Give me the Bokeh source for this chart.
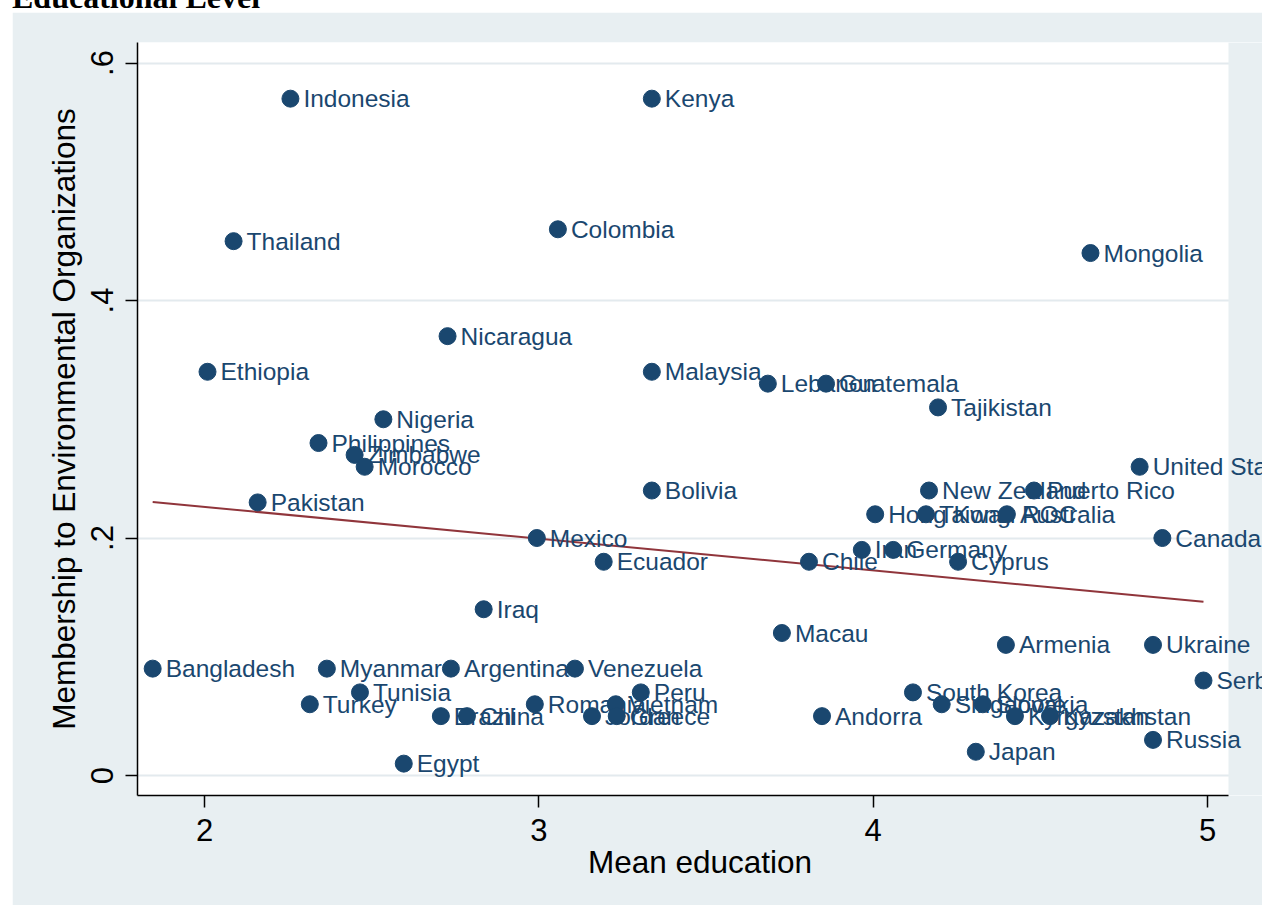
import numpy as np
from bokeh.plotting import figure
from bokeh.layouts import column, row
from bokeh.models import (ColumnDataSource, BoxAnnotation, Div,
                          Spacer, Range1d, FixedTicker)
from bokeh.core.properties import value
from bokeh.embed import file_html
from bokeh.resources import INLINE

# ---- data ----
countries = ["Indonesia", "Kenya", "Thailand", "Colombia", "Mongolia",
             "Nicaragua", "Ethiopia", "Malaysia", "Lebanon", "Guatemala",
             "Tajikistan", "Nigeria", "Philippines", "Zimbabwe", "Morocco",
             "United States", "Bolivia", "New Zealand", "Puerto Rico", "Pakistan",
             "Hong Kong", "Taiwan ROC", "Australia", "Mexico", "Canada",
             "Iran", "Germany", "Chile", "Ecuador", "Cyprus",
             "Iraq", "Macau", "Armenia", "Ukraine", "Bangladesh",
             "Myanmar", "Argentina", "Venezuela", "Serbia", "Tunisia",
             "Peru", "South Korea", "Turkey", "Romania", "Vietnam",
             "Singapore", "Slovakia", "Brazil", "China", "Jordan",
             "Greece", "Andorra", "Kyrgyzstan", "Kazakhstan", "Russia",
             "Japan", "Egypt"]
mean_education = [2.257, 3.338, 2.087, 3.057, 4.650,
                  2.727, 2.009, 3.338, 3.685, 3.859,
                  4.194, 2.535, 2.341, 2.449, 2.479,
                  4.797, 3.338, 4.167, 4.481, 2.159,
                  4.006, 4.158, 4.400, 2.994, 4.865,
                  3.966, 4.060, 3.808, 3.194, 4.254,
                  2.835, 3.727, 4.397, 4.837, 1.845,
                  2.366, 2.737, 3.108, 4.988, 2.465,
                  3.305, 4.119, 2.315, 2.988, 3.230,
                  4.205, 4.328, 2.707, 2.785, 3.159,
                  3.233, 3.847, 4.424, 4.529, 4.837,
                  4.307, 2.596]
membership = [0.57, 0.57, 0.45, 0.46, 0.44,
              0.37, 0.34, 0.34, 0.33, 0.33,
              0.31, 0.30, 0.28, 0.27, 0.26,
              0.26, 0.24, 0.24, 0.24, 0.23,
              0.22, 0.22, 0.22, 0.20, 0.20,
              0.19, 0.19, 0.18, 0.18, 0.18,
              0.14, 0.12, 0.11, 0.11, 0.09,
              0.09, 0.09, 0.09, 0.08, 0.07,
              0.07, 0.07, 0.06, 0.06, 0.06,
              0.06, 0.06, 0.05, 0.05, 0.05,
              0.05, 0.05, 0.05, 0.05, 0.03,
              0.02, 0.01]

xticks = [2, 3, 4, 5]
yticks = [0, 0.2, 0.4, 0.6]
ytick_labels = ["0", ".2", ".4", ".6"]

title_text = "Educational Level"
x_title = "Mean education"
y_title = "Membership to Environmental Organizations"

# ---- styling ----
NAVY = "#1a476f"
MAROON = "#90353b"
PANEL = "#e8eff2"
GRID = "#e3eaee"
FONT = "Liberation Sans"

X_LO, X_HI = 1.7996, 5.0628      # white plot region
X_CANVAS_HI = 5.1645             # right edge of the outer panel
Y_LO, Y_HI = -0.01684, 0.6173

W, H = 1250, 893
p = figure(width=W, height=H, output_backend="svg", toolbar_location=None,
           x_range=Range1d(X_LO, X_CANVAS_HI), y_range=Range1d(Y_LO, Y_HI),
           min_border_left=125, min_border_right=0,
           min_border_top=30, min_border_bottom=110, margin=(0, 0, 0, 0))
p.border_fill_color = PANEL
p.background_fill_color = "white"
p.outline_line_color = None

# axes
p.xaxis.ticker = FixedTicker(ticks=xticks)
p.yaxis.ticker = FixedTicker(ticks=yticks)
p.yaxis.major_label_overrides = dict(zip(yticks, ytick_labels))
p.yaxis.major_label_orientation = "vertical"
p.xaxis.bounds = (X_LO, X_HI)
for ax in (p.xaxis, p.yaxis):
    ax.axis_line_color = "black"
    ax.axis_line_width = 1.5
    ax.major_tick_line_color = "black"
    ax.major_tick_line_width = 1.5
    ax.major_tick_out = 12
    ax.major_tick_in = 0
    ax.minor_tick_line_color = None
    ax.major_label_text_font = FONT
    ax.major_label_text_font_size = "31px"
    ax.major_label_text_color = "black"
    ax.axis_label_text_font = FONT
    ax.axis_label_text_font_size = "31.5px"
    ax.axis_label_text_font_style = "normal"
    ax.axis_label_text_color = "black"
p.xaxis.axis_label = x_title
p.yaxis.axis_label = y_title
p.xaxis.major_label_standoff = 11
p.xaxis.axis_label_standoff = 0
p.yaxis.major_label_standoff = 12
p.yaxis.axis_label_standoff = 7

p.xgrid.visible = False
p.ygrid.grid_line_color = GRID
p.ygrid.grid_line_width = 2

# outer-panel strip at the right of the white plot region (covers grid lines)
strip = BoxAnnotation(left=X_HI, fill_color=PANEL, fill_alpha=1.0,
                      line_color=None, level="underlay")
p.add_layout(strip)

# fitted line (least squares on the data)
xs = np.array(mean_education)
ys = np.array(membership)
b1, b0 = np.polyfit(xs, ys, 1)
fx = np.array([xs.min(), xs.max()])
p.line(fx, b0 + b1 * fx, line_color=MAROON, line_width=2)

src = ColumnDataSource(dict(x=mean_education, y=membership, name=countries))
# labels first, markers on top (as in the reference)
p.text("x", "y", text="name", source=src, x_offset=13,
       text_baseline="middle", text_align="left", text_font=value(FONT),
       text_font_size=value("24.5px"), text_color=NAVY)
p.scatter("x", "y", source=src, size=17, fill_color=NAVY, line_color=NAVY)

# cropped title strip at the top of the page
title_html = (
    '<div style="position:relative;width:1262px;height:12px;overflow:hidden;'
    'background:white;">'
    '<div style="position:absolute;left:12px;bottom:-1px;white-space:nowrap;'
    "font-family:'Liberation Serif';font-weight:bold;font-size:32px;"
    'line-height:1;color:black;">' + title_text + '</div></div>'
)
title_div = Div(text=title_html, width=1262, height=12, margin=(0, 0, 0, 0))

layout = column(title_div,
                row(Spacer(width=12, height=H, margin=(0, 0, 0, 0)), p,
                    spacing=0, margin=(0, 0, 0, 0)),
                spacing=0, margin=(0, 0, 0, 0))

open("out.html", "w").write(file_html(layout, INLINE))
